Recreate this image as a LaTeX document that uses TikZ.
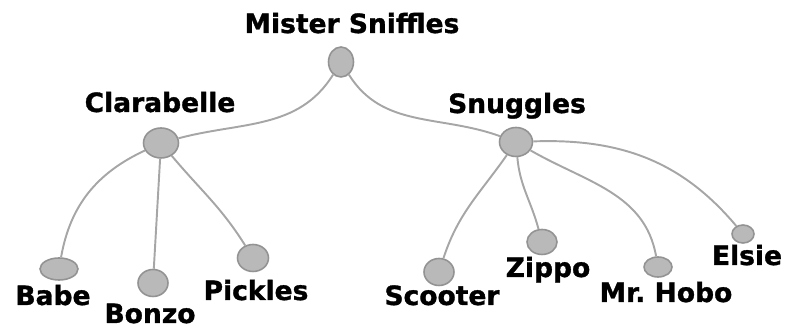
\documentclass[tikz,border=0pt]{standalone}
\usepackage{fontspec}
\setmainfont{DejaVu Sans}[BoldFeatures={FakeBold=1.2}]
\usetikzlibrary{shapes.geometric}

\begin{document}
\begin{tikzpicture}[x=0.02cm, y=0.02cm,
  blob/.style={ellipse, draw=gray!85, fill=gray!55, line width=0.9pt, inner sep=0pt},
  petlabel/.style={anchor=base, inner sep=0pt, font=\fontsize{15.1}{18}\selectfont\bfseries},
  link/.style={draw=gray!70, line width=1.1pt}]
  \useasboundingbox (0,0) rectangle (789,331);
  % blobs: name/x/y/width/height
  \foreach \n/\x/\y/\w/\h in {sniffles/341/269/25/30, clarabelle/161/188/35/30,
      snuggles/516/189/33/29, babe/59/62/38/22, bonzo/153/48/30/27, pickles/253/73/31/27,
      scooter/439/59/30/27, zippo/542/89/30/25, mrhobo/658/64/28/20, elsie/743/97/22/18} {
    \node[blob, minimum width=0.02cm*\w, minimum height=0.02cm*\h] (\n) at (\x,\y) {};
  }
  % labels
  \foreach \n/\x/\y/\t in {sniffles/352/298/Mister Sniffles, clarabelle/160/219/Clarabelle,
      snuggles/517/218/Snuggles, babe/53/26/Babe, bonzo/150/8/Bonzo, pickles/256/31/Pickles,
      scooter/442/26/Scooter, zippo/548/54/Zippo, mrhobo/666/29/Mr.\ Hobo, elsie/747/66/Elsie} {
    \node[petlabel] (t\n) at (\x,\y) {\t};
  }
  \draw[link] (sniffles) to[out=238, in=15] (clarabelle);
  \draw[link] (sniffles) to[out=-58, in=160] (snuggles);
  \draw[link] (clarabelle) to[out=205, in=80] (babe);
  \draw[link] (clarabelle) -- (bonzo);
  \draw[link] (clarabelle) to[out=-50, in=122] (pickles);
  \draw[link] (snuggles) to[out=235, in=72] (scooter);
  \draw[link] (snuggles) to[out=-85, in=105] (zippo);
  \draw[link] (snuggles) to[out=-30, in=100] (mrhobo);
  \draw[link] (snuggles) to[out=2, in=130] (elsie);
\end{tikzpicture}
\end{document}
